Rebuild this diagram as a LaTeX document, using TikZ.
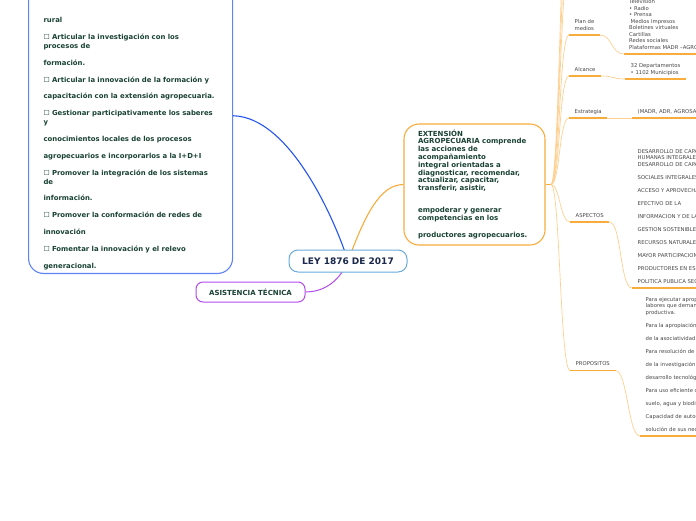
\documentclass[tikz,border=0pt]{standalone}
\usepackage{fontspec}
\setmainfont{DejaVu Sans}
\usetikzlibrary{backgrounds}
\definecolor{leyblue}{RGB}{105,170,222}
\definecolor{leytext}{RGB}{25,40,75}
\definecolor{boxblue}{RGB}{95,130,245}
\definecolor{linkblue}{RGB}{35,85,240}
\definecolor{extorange}{RGB}{248,172,60}
\definecolor{twigorange}{RGB}{253,208,145}
\definecolor{asispurple}{RGB}{178,75,235}
\definecolor{textgreen}{RGB}{25,66,50}
\definecolor{leafgray}{RGB}{70,70,70}

\begin{document}
\begin{tikzpicture}[x=1pt,y=-1pt,
  every node/.style={font=\fontsize{5.3}{6.5}\selectfont,text=leafgray},
  topicbox/.style={draw,fill=white,line width=1.1pt,align=left,text=textgreen},
  sub/.style={anchor=south west,align=left,inner xsep=5.5pt,inner ysep=3.2pt,text depth=1.3pt},
  uline/.style={extorange,line width=1.5pt},
  twig/.style={twigorange,line width=0.7pt}]
\useasboundingbox (0,0) rectangle (696,520);
\clip (0,0) rectangle (696,520);
% central topic
\node[draw=leyblue,fill=white,line width=1pt,rounded corners=9pt,minimum width=118pt,minimum height=22pt,font=\fontsize{9}{10}\selectfont\bfseries,text=leytext] (ley) at (348,261) {LEY 1876 DE 2017};
% objectives box (top runs out of the frame)
\node[topicbox,draw=boxblue,rounded corners=15pt,anchor=south west,text width=174pt,inner xsep=15pt,inner ysep=3.8pt,font=\fontsize{6.9}{9}\selectfont\bfseries] (objetivos) at (28,274) {\vspace*{38.6pt}%
☐ Articular la investigación con la extensión\\[7.8pt]
rural\\[7.8pt]
☐ Articular la investigación con los\\
procesos de\\[7.8pt]
formación.\\[7.8pt]
☐ Articular la innovación de la formación y\\[7.8pt]
capacitación con la extensión agropecuaria.\\[7.8pt]
☐ Gestionar participativamente los saberes\\
y\\[7.8pt]
conocimientos locales de los procesos\\[7.8pt]
agropecuarios e incorporarlos a la I+D+I\\[7.8pt]
☐ Promover la integración de los sistemas\\
de\\[7.8pt]
información.\\[7.8pt]
☐ Promover la conformación de redes de\\[7.8pt]
innovación\\[7.8pt]
☐ Fomentar la innovación y el relevo\\[7.8pt]
generacional.};
% extension box
\node[topicbox,draw=extorange,rounded corners=15pt,minimum width=141pt,minimum height=121pt,text width=113pt,font=\fontsize{7}{7.8}\selectfont\bfseries] (ext) at (474.5,184.5) {EXTENSIÓN\\
AGROPECUARIA comprende\\
las acciones de\\
acompañamiento\\
integral orientadas a\\
diagnosticar, recomendar,\\
actualizar, capacitar,\\
transferir, asistir,\\[13.9pt]
empoderar y generar\\
competencias en los\\[9.8pt]
productores agropecuarios.};
\node[topicbox,draw=asispurple,line width=1pt,rounded corners=7pt,minimum width=109pt,minimum height=20pt,font=\fontsize{7}{8}\selectfont\bfseries] (asis) at (250.5,292) {ASISTENCIA TÉCNICA};
\coordinate (hub) at (551,184.5);
\coordinate (oculto1) at (567,-22);
\coordinate (oculto2) at (567,-60);
\coordinate (oculto3) at (567,-100);
% sub topics
\node[sub] (plan) at (569,35) {Plan de\\medios};
\node[sub] (alcance) at (569,76) {Alcance};
\node[sub] (estrategia) at (569,118) {Estrategia};
\node[sub] (aspectos) at (570,222) {ASPECTOS};
\node[sub] (propositos) at (570,370.5) {PROPOSITOS};
% leaves
\node[sub] (medios) at (623.5,54) {Televisión\\• Radio\\• Prensa\\\kern1.5pt Medios Impresos\\Boletines virtuales\\Cartillas\\Redes sociales\\Plataformas MADR –AGROSAVIA};
\node[sub] (cobertura) at (625,79) {32 Departamentos\\• 1102 Municipios};
\node[sub] (aliados) at (632,118) {(MADR, ADR, AGROSAVIA)};
\node[sub] (temas) at (632,288) {DESARROLLO DE CAPACIDADES\\
HUMANAS INTEGRALES\\
DESARROLLO DE CAPACIDADES\\[6.5pt]
SOCIALES INTEGRALES\\[6.5pt]
ACCESO Y APROVECHAMIENTO\\[6.5pt]
EFECTIVO DE LA\\[6.5pt]
INFORMACION Y DE LAS TIC\\[6.5pt]
GESTION SOSTENIBLE DE LOS\\[6.5pt]
RECURSOS NATURALES\\[6.5pt]
MAYOR PARTICIPACION DE LOS\\[6.5pt]
PRODUCTORES EN ESPACIOS\\[6.5pt]
POLITICA PUBLICA SECTORIAL};
\node[sub] (fines) at (640,436) {Para ejecutar apropiadamente las\\
labores que demanda la actividad\\
productiva.\\[6.5pt]
Para la apropiación social del conocimiento\\[6.5pt]
de la asociatividad\\[6.5pt]
Para resolución de problemas\\[6.5pt]
de la investigación y el\\[6.5pt]
desarrollo tecnológico\\[6.5pt]
Para uso eficiente del\\[6.5pt]
suelo, agua y biodiversidad\\[6.5pt]
Capacidad de autogestión\\[6.5pt]
solución de sus necesidades};
\foreach \n in {plan,alcance,estrategia,aspectos,propositos,medios,cobertura,aliados,temas,fines}
  \draw[uline] (\n.south west) -- (\n.south east);
\begin{scope}[on background layer]
\draw[linkblue,line width=1.1pt] (ley.center) .. controls (335,220) and (290,117) .. (objetivos.east);
\draw[extorange,line width=1.1pt] (ley.center) .. controls (365,215) and (380,184.5) .. (ext.west);
\draw[asispurple,line width=1pt] (ley.center) .. controls (338,285) and (320,292) .. (asis.east);
\draw[extorange,line width=1.3pt] (ext.east) -- (hub);
\foreach \s in {oculto1,oculto2,oculto3}
  \draw[twig] (hub) .. controls +(8,0) and +(-6,0) .. (\s);
\foreach \s in {plan.south west,alcance.south west,estrategia.south west,aspectos.south west,propositos.south west}
  \draw[twig] (hub) .. controls +(9,0) and +(-10,0) .. (\s);
\foreach \s/\l in {plan/medios,alcance/cobertura,estrategia/aliados,aspectos/temas,propositos/fines}
  \draw[twig] (\s.south east) .. controls +(12,0) and +(-12,0) .. (\l.south west);
\end{scope}
\end{tikzpicture}
\end{document}
